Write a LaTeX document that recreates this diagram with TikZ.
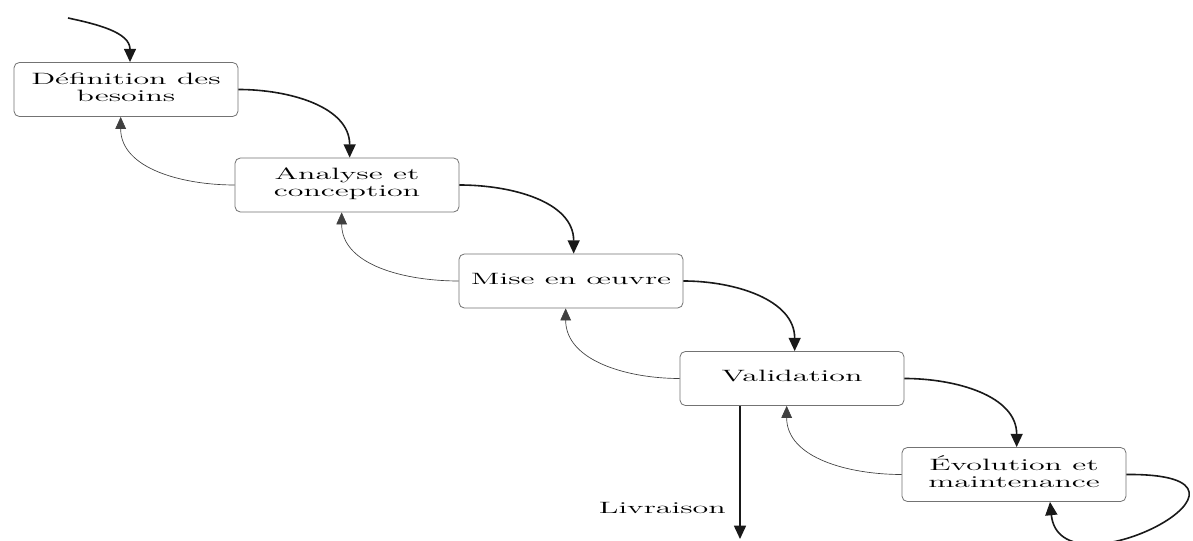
\documentclass[tikz,border=0pt]{standalone}
\usepackage{graphicx}
\usetikzlibrary{arrows.meta}
\newcommand{\wtxt}[1]{\scalebox{1.95}[1]{\begin{tabular}{@{}c@{}}#1\end{tabular}}}
\newcommand{\wone}[1]{\scalebox{1.95}[1]{#1}}
\tikzset{
  stage/.style={draw=black!55, line width=0.6pt, rounded corners=4pt,
    minimum width=168pt, minimum height=40.5pt, inner sep=0pt,
    text=black, font=\fontsize{12.3}{12.75}\selectfont},
  fwd/.style={line width=1.2pt, black!90, -{Triangle[length=10pt,width=9pt]}},
  back/.style={line width=0.5pt, black!75, -{Triangle[length=9pt,width=8pt]}},
  lbl/.style={inner sep=0pt, text=black, font=\fontsize{12.3}{12.75}\selectfont}
}
\begin{document}
\begin{tikzpicture}[x=0.75pt,y=0.75pt]
\useasboundingbox (0,0) rectangle (1193,-541);
\clip (0,0) rectangle (1193,-541);
\fill[white] (0,0) rectangle (1193,-541);

\node[stage] (n1) at (126,-89.5)  {\wtxt{Définition des\\besoins}};
\node[stage] (n2) at (347,-185)   {\wtxt{Analyse et\\conception}};
\node[stage] (n3) at (571,-281)   {\wtxt{Mise en œuvre}};
\node[stage] (n4) at (792,-378.5) {\wtxt{Validation}};
\node[stage] (n5) at (1014,-474.5){\wtxt{Évolution et\\maintenance}};

\coordinate (start) at (68,-18);
\draw[fwd] (start) to[out=-12,in=90] ([xshift=3pt]n1.north);
\draw[fwd] (n1.east) to[out=0,in=90] ([xshift=2pt]n2.north);
\draw[fwd] (n2.east) to[out=0,in=90] ([xshift=2pt]n3.north);
\draw[fwd] (n3.east) to[out=0,in=90] ([xshift=2pt]n4.north);
\draw[fwd] (n4.east) to[out=0,in=90] ([xshift=2pt]n5.north);

\draw[back] (n2.west) to[out=180,in=-90] ([xshift=-4pt]n1.south);
\draw[back] (n3.west) to[out=180,in=-90] ([xshift=-4pt]n2.south);
\draw[back] (n4.west) to[out=180,in=-90] ([xshift=-4pt]n3.south);
\draw[back] (n5.west) to[out=180,in=-90] ([xshift=-4pt]n4.south);

\draw[fwd] (n5.east) .. controls (1300,-473) and (1060,-600) .. ([xshift=27pt]n5.south);

\coordinate (liv) at (740,-539);
\draw[fwd] (n4.south -| liv) -- (liv);
\node[lbl, anchor=base east] (livlbl) at (726,-513) {\wone{Livraison}};
\end{tikzpicture}
\end{document}
